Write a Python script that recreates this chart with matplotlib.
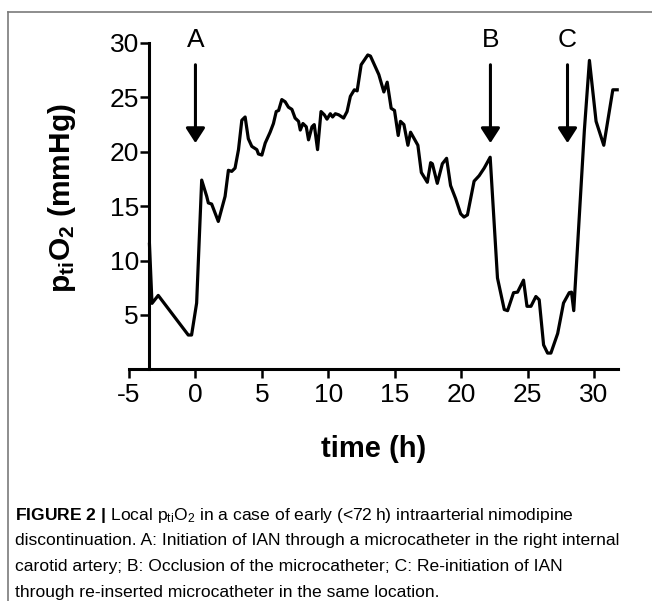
import matplotlib
matplotlib.use("Agg")
import matplotlib.pyplot as plt
from matplotlib.lines import Line2D

plt.rcParams['font.family'] = ['Liberation Sans', 'DejaVu Sans']
plt.rcParams['mathtext.fontset'] = 'custom'
plt.rcParams['mathtext.rm'] = 'Liberation Sans'
plt.rcParams['mathtext.it'] = 'Liberation Sans:italic'
plt.rcParams['mathtext.bf'] = 'Liberation Sans:bold'
plt.rcParams['axes.unicode_minus'] = False

# p_tiO2 trace
time_h = [-3.46, -3.27, -2.8, -0.54, -0.29, 0.09, 0.47, 0.85, 0.97, 1.22,
          1.72, 2.23, 2.48, 2.73, 2.98, 3.24, 3.49, 3.74, 3.98, 4.24,
          4.62, 4.74, 5.0, 5.25, 5.62, 5.87, 6.08, 6.26, 6.5, 6.75,
          7.0, 7.26, 7.5, 7.76, 7.89, 8.09, 8.34, 8.51, 8.77, 8.94,
          9.19, 9.45, 9.7, 9.9, 10.15, 10.32, 10.53, 10.78, 11.15, 11.41,
          11.66, 11.96, 12.17, 12.47, 12.97, 13.17, 13.8, 14.18, 14.43, 14.73,
          14.98, 15.26, 15.43, 15.69, 15.99, 16.19, 16.74, 17.0, 17.45, 17.7,
          17.83, 18.2, 18.58, 18.9, 19.2, 19.58, 19.96, 20.21, 20.47, 20.97,
          21.35, 21.73, 22.18, 22.73, 23.24, 23.49, 23.94, 24.24, 24.69, 24.95,
          25.25, 25.62, 25.87, 26.2, 26.5, 26.75, 27.26, 27.7, 28.13, 28.3,
          28.47, 29.27, 29.65, 30.15, 30.73, 31.41, 31.74]
pto2 = [11.5, 6.07, 6.8, 3.16, 3.16, 6.1, 17.4, 15.9, 15.3, 15.2,
        13.6, 15.9, 18.3, 18.2, 18.5, 20.2, 22.9, 23.2, 21.2, 20.5,
        20.2, 19.8, 19.7, 20.8, 21.8, 22.6, 23.7, 23.8, 24.8, 24.6,
        24.1, 23.9, 23.1, 22.8, 22.0, 22.6, 22.3, 21.1, 22.3, 22.5,
        20.2, 23.7, 23.4, 23.0, 23.5, 23.2, 23.5, 23.4, 23.1, 23.7,
        25.1, 25.7, 25.6, 28.0, 28.9, 28.8, 27.1, 25.5, 26.4, 24.0,
        23.8, 21.5, 22.8, 22.5, 20.6, 21.8, 20.6, 18.1, 17.2, 19.0,
        18.9, 17.1, 18.9, 19.4, 16.9, 15.7, 14.3, 14.0, 14.2, 17.3,
        17.8, 18.5, 19.5, 8.4, 5.5, 5.4, 7.05, 7.1, 8.2, 5.8,
        5.8, 6.7, 6.4, 2.25, 1.5, 1.5, 3.3, 6.1, 7.05, 7.1,
        5.4, 22.0, 28.4, 22.8, 20.6, 25.7, 25.7]

# event markers
event_labels = ['A', 'B', 'C']
event_times = [0.0, 22.2, 28.0]

x_ticks = [-5, 0, 5, 10, 15, 20, 25, 30]
y_ticks = [5, 10, 15, 20, 25, 30]

caption_lines = [
    r"$\mathbf{FIGURE\ 2\ |}$ Local $\mathrm{p_{ti}O_2}$ in a case of early (<72" + "\u2009" + "h) intraarterial nimodipine",
    "discontinuation. A: Initiation of IAN through a microcatheter in the right internal",
    "carotid artery; B: Occlusion of the microcatheter; C: Re-initiation of IAN",
    "through re-inserted microcatheter in the same location.",
]

W, H = 652, 601
fig = plt.figure(figsize=(W / 100, H / 100), dpi=100)
ax = fig.add_axes([129 / W, 1 - 369.4 / H, 489 / W, 326.4 / H])

ax.plot(time_h, pto2, color='black', lw=2.3, clip_on=False)

ax.set_xlim(-5, 31.8)
ax.set_ylim(0, 30)
ax.set_xticks(x_ticks)
ax.set_yticks(y_ticks)
ax.spines['top'].set_visible(False)
ax.spines['right'].set_visible(False)
ax.spines['left'].set_position(('data', time_h[0]))
for s in ('left', 'bottom'):
    ax.spines[s].set_linewidth(2.2)
ax.tick_params(axis='both', length=6.5, width=1.8, labelsize=19, direction='out')
ax.tick_params(axis='y', pad=1)
ax.tick_params(axis='x', pad=3)

ax.set_ylabel(r"$\mathbf{p_{ti}O_2}$ (mmHg)", fontsize=21.5, fontweight='bold')
ax.yaxis.set_label_coords(-0.105, 0.525)
ax.set_xlabel("time (h)", fontsize=21, fontweight='bold')
ax.xaxis.set_label_coords(0.501, -0.2)

for lab, t in zip(event_labels, event_times):
    ax.annotate('', xy=(t, 20.8), xytext=(t, 28.0),
                arrowprops=dict(arrowstyle='-|>,head_length=0.45,head_width=0.29',
                                lw=2.2, color='black', mutation_scale=20,
                                shrinkA=0, shrinkB=0),
                annotation_clip=False)
    ax.text(t, 30.3, lab, fontsize=19, ha='center', va='center', clip_on=False)

for i, line in enumerate(caption_lines):
    base = [520, 545, 571, 597][i]
    fig.text(15 / W, 1 - base / H, line, fontsize=12.6, va='baseline', ha='left')

# frame around the figure panel
gray = '#7a7a7a'
fig.add_artist(Line2D([8 / W, 8 / W], [1 - 12 / H, 0], color=gray, lw=1.2,
                      transform=fig.transFigure))
fig.add_artist(Line2D([8 / W, 1], [1 - 12 / H, 1 - 12 / H], color=gray, lw=1.2,
                      transform=fig.transFigure))

fig.savefig("out.png", dpi=100)
